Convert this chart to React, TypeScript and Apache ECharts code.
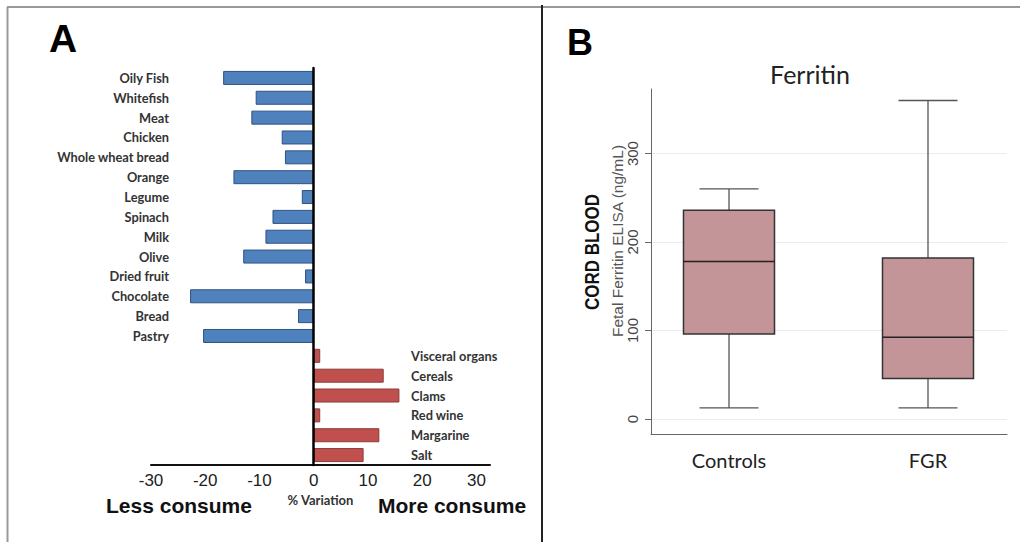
import { useEffect, useRef } from "react";
import * as echarts from "echarts";

// Panel A: % variation in consumption
const lessCategories = [
  "Oily Fish", "Whitefish", "Meat", "Chicken", "Whole wheat bread", "Orange", "Legume",
  "Spinach", "Milk", "Olive", "Dried fruit", "Chocolate", "Bread", "Pastry",
];
const lessValues = [-16.7, -10.7, -11.5, -5.9, -5.3, -14.8, -2.2, -7.6, -8.9, -13.0, -1.6, -22.8, -2.9, -20.4];
const moreCategories = ["Visceral organs", "Cereals", "Clams", "Red wine", "Margarine", "Salt"];
const moreValues = [1.2, 12.9, 15.8, 1.2, 12.1, 9.2];
const variationTicks = [-30, -20, -10, 0, 10, 20, 30];

// Panel B: Ferritin boxplot (min, Q1, median, Q3, max)
const boxGroups = ["Controls", "FGR"];
const boxMin = [12.5, 12.5];
const boxQ1 = [96, 45.7];
const boxMedian = [178, 92.5];
const boxQ3 = [236, 182];
const boxMax = [260, 360];
const ferritinTicks = [0, 100, 200, 300];

export default function App() {
  const ref = useRef<HTMLDivElement>(null);

  useEffect(() => {
    if (!ref.current) return;
    const chart = echarts.init(ref.current, null, { renderer: "svg" });
    const allCategories = [...lessCategories, ...moreCategories];
    const nLess = lessCategories.length;
    const lessData = [...lessValues, ...moreCategories.map(() => "-")];
    const moreData = [...lessCategories.map(() => "-"), ...moreValues];
    const boxData = boxGroups.map((_, i) => [i, boxMin[i], boxQ1[i], boxMedian[i], boxQ3[i], boxMax[i]]);

    const catLabelStyle = {
      fontFamily: "Lato",
      fontWeight: "bold" as const,
      fontSize: 12.8,
      color: "#333",
    };

    const option: any = {
      animation: false,
      grid: [
        { left: 151, width: 339, top: 68, height: 397 },
        { left: 651, width: 356, top: 89, height: 345 },
      ],
      xAxis: [
        {
          type: "value",
          gridIndex: 0,
          min: -30,
          max: 32.5,
          interval: 10,
          axisLine: { show: true, onZero: false, lineStyle: { color: "#111", width: 2 } },
          axisTick: { show: false },
          splitLine: { show: false },
          axisLabel: {
            customValues: variationTicks,
            fontFamily: "Liberation Sans",
            fontSize: 17,
            color: "#222",
            margin: 7,
          },
          name: "% Variation",
          nameLocation: "middle",
          nameGap: 26,
          nameTextStyle: { fontFamily: "Lato", fontWeight: "bold", fontSize: 13, color: "#333" },
        },
        {
          type: "value",
          gridIndex: 1,
          min: -0.392,
          max: 1.397,
          axisLine: { show: true, onZero: false, lineStyle: { color: "#666", width: 1 } },
          axisTick: { show: false },
          splitLine: { show: false },
          axisLabel: {
            customValues: [0, 1],
            formatter: (v: number) => boxGroups[Math.round(v)] ?? "",
            fontFamily: "Lato",
            fontSize: 20,
            color: "#222",
            margin: 16,
          },
        },
      ],
      yAxis: [
        {
          type: "category",
          gridIndex: 0,
          inverse: true,
          data: allCategories,
          z: 5,
          axisLine: { show: true, onZero: true, lineStyle: { color: "#000", width: 2.5 } },
          axisTick: { show: false },
          axisLabel: { show: false },
          splitLine: { show: false },
        },
        {
          type: "category",
          gridIndex: 0,
          inverse: true,
          position: "left",
          data: allCategories,
          axisLine: { show: false, onZero: false },
          axisTick: { show: false },
          splitLine: { show: false },
          axisLabel: {
            ...catLabelStyle,
            margin: -18,
            formatter: (v: string, i: number) => (i < nLess ? v : ""),
          },
        },
        {
          type: "category",
          gridIndex: 0,
          inverse: true,
          position: "right",
          data: allCategories,
          axisLine: { show: false, onZero: false },
          axisTick: { show: false },
          splitLine: { show: false },
          axisLabel: {
            ...catLabelStyle,
            margin: -79,
            formatter: (v: string, i: number) => (i >= nLess ? v : ""),
          },
        },
        {
          type: "value",
          gridIndex: 1,
          min: -17,
          max: 373,
          axisLine: { show: true, onZero: false, lineStyle: { color: "#666", width: 1 } },
          axisTick: { show: true, customValues: ferritinTicks, length: 6, lineStyle: { color: "#666" } },
          axisLabel: {
            customValues: ferritinTicks,
            rotate: 90,
            fontFamily: "Liberation Sans",
            fontSize: 15,
            color: "#444",
            margin: 11,
          },
          splitLine: { show: true, lineStyle: { color: "#e3edf2", width: 1 } },
        },
      ],
      series: [
        {
          type: "bar",
          name: "Less consume",
          xAxisIndex: 0,
          yAxisIndex: 0,
          stack: "v",
          data: lessData,
          barWidth: 14,
          itemStyle: { color: "#4f81bd", borderColor: "#2f5382", borderWidth: 1 },
        },
        {
          type: "bar",
          name: "More consume",
          xAxisIndex: 0,
          yAxisIndex: 0,
          stack: "v",
          data: moreData,
          barWidth: 14,
          itemStyle: { color: "#c0504d", borderColor: "#8b3a38", borderWidth: 1 },
        },
        {
          type: "custom",
          name: "Ferritin",
          xAxisIndex: 1,
          yAxisIndex: 3,
          data: boxData,
          encode: { x: 0, y: [1, 2, 3, 4, 5] },
          renderItem: (_params: any, api: any) => {
            const x = api.value(0);
            const pLo = api.coord([x, api.value(1)]);
            const pQ1 = api.coord([x, api.value(2)]);
            const pMed = api.coord([x, api.value(3)]);
            const pQ3 = api.coord([x, api.value(4)]);
            const pHi = api.coord([x, api.value(5)]);
            const cx = pMed[0];
            const half = 45.5;
            const cap = 29.5;
            const wStyle = { stroke: "#555", lineWidth: 1.3, fill: "none" };
            return {
              type: "group",
              children: [
                { type: "line", shape: { x1: cx, y1: pHi[1], x2: cx, y2: pQ3[1] }, style: wStyle },
                { type: "line", shape: { x1: cx, y1: pQ1[1], x2: cx, y2: pLo[1] }, style: wStyle },
                { type: "line", shape: { x1: cx - cap, y1: pHi[1], x2: cx + cap, y2: pHi[1] }, style: wStyle },
                { type: "line", shape: { x1: cx - cap, y1: pLo[1], x2: cx + cap, y2: pLo[1] }, style: wStyle },
                {
                  type: "rect",
                  shape: { x: cx - half, y: pQ3[1], width: half * 2, height: pQ1[1] - pQ3[1] },
                  style: { fill: "#c49598", stroke: "#333", lineWidth: 1.5 },
                },
                {
                  type: "line",
                  shape: { x1: cx - half, y1: pMed[1], x2: cx + half, y2: pMed[1] },
                  style: { stroke: "#222", lineWidth: 1.5 },
                },
              ],
            };
          },
        },
      ],
      graphic: [
        { type: "line", shape: { x1: 7, y1: 7, x2: 1020, y2: 7 }, style: { stroke: "#777", lineWidth: 1.5 } },
        { type: "line", shape: { x1: 7.5, y1: 7, x2: 7.5, y2: 542 }, style: { stroke: "#999", lineWidth: 2 } },
        { type: "line", shape: { x1: 542, y1: 5, x2: 542, y2: 542 }, style: { stroke: "#222", lineWidth: 2 } },
        {
          type: "text", x: 63, y: 38,
          style: { text: "A", font: "bold 39px 'Liberation Sans'", fill: "#000", textAlign: "center", textVerticalAlign: "middle" },
        },
        {
          type: "text", x: 580, y: 42,
          style: { text: "B", font: "bold 36px 'Liberation Sans'", fill: "#000", textAlign: "center", textVerticalAlign: "middle" },
        },
        {
          type: "text", x: 179, y: 505,
          style: { text: "Less consume", font: "bold 21px 'Liberation Sans'", fill: "#111", textAlign: "center", textVerticalAlign: "middle" },
        },
        {
          type: "text", x: 452, y: 505,
          style: { text: "More consume", font: "bold 21px 'Liberation Sans'", fill: "#111", textAlign: "center", textVerticalAlign: "middle" },
        },
        {
          type: "text", x: 810, y: 74,
          style: { text: "Ferritin", font: "25px Lato", fill: "#222", textAlign: "center", textVerticalAlign: "middle" },
        },
        {
          type: "text", x: 592, y: 252, rotation: Math.PI / 2, scaleX: 0.85,
          style: { text: "CORD BLOOD", font: "bold 20px 'Liberation Sans'", fill: "#111", textAlign: "center", textVerticalAlign: "middle" },
        },
        {
          type: "text", x: 617, y: 241, rotation: Math.PI / 2,
          style: { text: "Fetal Ferritin ELISA (ng/mL)", font: "15.5px 'Liberation Sans'", fill: "#555", textAlign: "center", textVerticalAlign: "middle" },
        },
      ],
    };

    chart.setOption(option);
    return () => chart.dispose();
  }, []);

  return <div ref={ref} style={{ width: 1020, height: 542, position: "absolute", left: 0, top: 0 }} />;
}
